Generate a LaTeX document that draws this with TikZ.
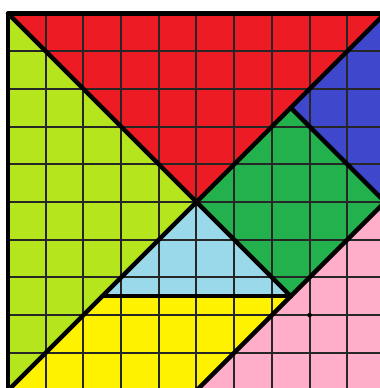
\documentclass[tikz,border=0pt]{standalone}
\usepackage{xcolor}
\usepackage{tikz}

\definecolor{tanred}{HTML}{ED1C24}
\definecolor{tanlime}{HTML}{B5E61D}
\definecolor{tanblue}{HTML}{3F48CC}
\definecolor{tangreen}{HTML}{22B14C}
\definecolor{tansky}{HTML}{99D9EA}
\definecolor{tanyellow}{HTML}{FFF200}
\definecolor{tanpink}{HTML}{FFAEC9}

\begin{document}
\begin{tikzpicture}[
  piece/.style={line join=round},
  gridline/.style={black!85, line width=1.5pt},
  edge/.style={black, line width=3.4pt, line join=round, line cap=round}
]
\useasboundingbox (-0.212,0.066) rectangle (9.867,10.358);

%% corners and cut points of the square
\coordinate (tl) at (0,10);
\coordinate (tr) at (10,10);
\coordinate (bl) at (0,0);
\coordinate (br) at (10,0);
\coordinate (c)  at (5,5);
\coordinate (mr) at (10,5);
\coordinate (mb) at (5,0);
\coordinate (q1) at (7.5,7.5);
\coordinate (q3) at (2.5,2.5);
\coordinate (q4) at (7.5,2.5);

%% the seven pieces
\fill[piece, tanred]    (tl) -- (tr) -- (c) -- cycle;
\fill[piece, tanlime]   (tl) -- (c) -- (bl) -- cycle;
\fill[piece, tanblue]   (tr) -- (mr) -- (q1) -- cycle;
\fill[piece, tangreen]  (c) -- (q1) -- (mr) -- (q4) -- cycle;
\fill[piece, tansky]    (c) -- (q4) -- (q3) -- cycle;
\fill[piece, tanyellow] (q3) -- (q4) -- (mb) -- (bl) -- cycle;
\fill[piece, tanpink]   (mr) -- (br) -- (mb) -- cycle;

%% grid
\draw[gridline] (bl) grid (tr);

%% outlines
\draw[edge] (tl) -- (tr) -- (br) -- (bl) -- cycle;
\draw[edge] (tl) -- (c) -- (q4);
\draw[edge] (tr) -- (bl);
\draw[edge] (q1) -- (mr) -- (mb);
\draw[edge] (q3) -- (q4);

%% small mark
\fill (8,2) circle (0.06);

\end{tikzpicture}
\end{document}
